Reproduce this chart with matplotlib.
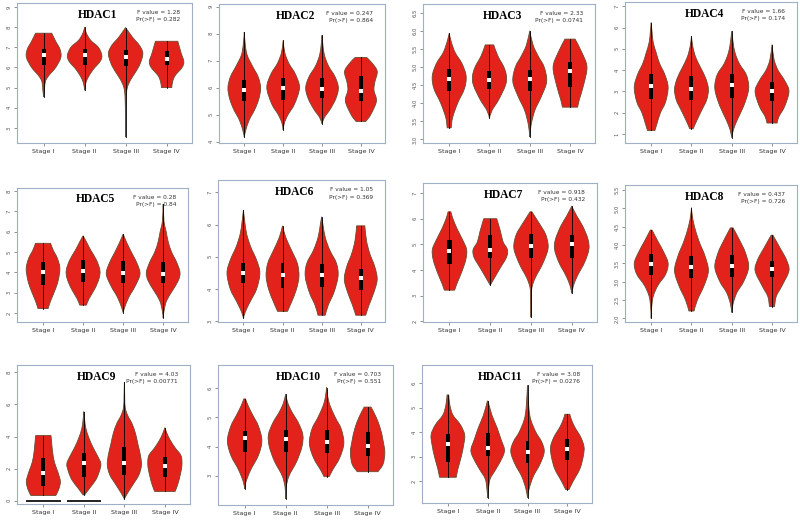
import matplotlib
matplotlib.use("Agg")
import numpy as np
import matplotlib.pyplot as plt
from matplotlib.path import Path
from matplotlib.patches import PathPatch

# ---------------------------
# Data
# ---------------------------
stages = ["Stage I", "Stage II", "Stage III", "Stage IV"]
genes = ["HDAC1", "HDAC2", "HDAC3", "HDAC4", "HDAC5", "HDAC6",
         "HDAC7", "HDAC8", "HDAC9", "HDAC10", "HDAC11"]
f_values = ["1.28", "0.247", "2.33", "1.66", "0.28", "1.05",
            "0.918", "0.437", "4.03", "0.703", "3.08"]
p_values = ["0.282", "0.864", "0.0741", "0.174", "0.84", "0.369",
            "0.432", "0.726", "0.00771", "0.551", "0.0276"]

# violin outlines: (expression, relative half-width) from bottom to top
hdac1_shape = [
    [(4.55, 0), (4.9, 0.05), (5.3, 0.1), (5.6, 0.3), (6.0, 0.7), (6.5, 1.0), (6.9, 0.95), (7.3, 0.7), (7.7, 0.47)],
    [(4.87, 0), (5.2, 0.06), (5.5, 0.2), (5.9, 0.5), (6.3, 0.9), (6.6, 1.0), (7.0, 0.8), (7.35, 0.35), (7.7, 0.1), (8.0, 0)],
    [(2.54, 0), (3.5, 0.01), (4.5, 0.03), (5.0, 0.1), (5.4, 0.3), (5.8, 0.6), (6.2, 0.85), (6.7, 1.0), (7.1, 0.8), (7.5, 0.4), (7.98, 0)],
    [(5.0, 0.3), (5.3, 0.35), (5.6, 0.5), (6.0, 0.9), (6.3, 1.0), (6.7, 0.85), (7.3, 0.65)],
]
hdac1_box = [(6.1, 6.6, 6.92), (6.13, 6.6, 6.92), (6.07, 6.5, 6.87), (6.1, 6.43, 6.8)]

hdac2_shape = [
    [(4.17, 0), (4.4, 0.08), (4.8, 0.3), (5.2, 0.65), (5.6, 0.9), (6.0, 1.0), (6.4, 0.85), (6.8, 0.5), (7.2, 0.18), (7.6, 0.06), (8.06, 0)],
    [(4.44, 0), (4.7, 0.08), (5.0, 0.3), (5.4, 0.7), (6.0, 1.0), (6.5, 0.75), (6.9, 0.35), (7.3, 0.1), (7.75, 0)],
    [(4.66, 0), (4.9, 0.15), (5.2, 0.5), (5.6, 0.85), (6.0, 1.0), (6.4, 0.8), (6.8, 0.4), (7.2, 0.15), (7.6, 0.05), (7.94, 0)],
    [(4.75, 0.3), (5.0, 0.6), (5.5, 0.95), (5.9, 0.8), (6.2, 0.85), (6.6, 1.0), (6.9, 0.7), (7.12, 0.35)],
]
hdac2_box = [(5.49, 5.91, 6.3), (5.55, 5.98, 6.34), (5.63, 5.94, 6.34), (5.49, 5.89, 6.45)]

hdac3_shape = [
    [(3.32, 0.12), (3.6, 0.2), (4.0, 0.5), (4.4, 0.9), (4.75, 1.0), (5.1, 0.75), (5.4, 0.35), (5.7, 0.12), (5.93, 0)],
    [(3.59, 0), (3.8, 0.15), (4.1, 0.55), (4.5, 0.95), (4.75, 1.0), (5.0, 0.85), (5.3, 0.5), (5.61, 0.25)],
    [(3.07, 0), (3.4, 0.08), (3.8, 0.3), (4.2, 0.7), (4.6, 1.0), (5.0, 0.85), (5.3, 0.5), (5.6, 0.2), (6.0, 0)],
    [(3.89, 0.45), (4.1, 0.55), (4.5, 0.8), (5.0, 1.0), (5.4, 0.7), (5.77, 0.3)],
]
hdac3_box = [(4.35, 4.67, 4.94), (4.39, 4.65, 4.9), (4.35, 4.67, 4.92), (4.44, 4.88, 5.15)]

hdac4_shape = [
    [(1.16, 0.22), (1.5, 0.35), (2.0, 0.55), (2.5, 0.85), (3.2, 1.0), (3.8, 0.8), (4.3, 0.5), (4.8, 0.3), (5.3, 0.12), (5.8, 0.05), (6.23, 0)],
    [(1.24, 0.1), (1.6, 0.3), (2.1, 0.6), (2.6, 0.9), (3.1, 1.0), (3.6, 0.85), (4.1, 0.55), (4.6, 0.25), (5.1, 0.08), (5.59, 0)],
    [(0.82, 0), (1.2, 0.1), (1.7, 0.35), (2.3, 0.7), (2.9, 0.95), (3.3, 1.0), (3.8, 0.85), (4.3, 0.45), (4.8, 0.2), (5.3, 0.08), (5.84, 0)],
    [(1.51, 0.3), (1.8, 0.4), (2.3, 0.75), (3.0, 1.0), (3.5, 0.75), (4.0, 0.35), (4.5, 0.12), (5.2, 0)],
]
hdac4_box = [(2.65, 3.24, 3.8), (2.61, 3.13, 3.71), (2.7, 3.28, 3.8), (2.54, 3.02, 3.44)]

hdac5_shape = [
    [(2.22, 0.3), (2.6, 0.45), (3.1, 0.7), (3.6, 0.9), (4.2, 1.0), (4.7, 0.85), (5.1, 0.6), (5.43, 0.45)],
    [(2.39, 0.2), (2.7, 0.35), (3.2, 0.7), (3.7, 0.95), (4.1, 1.0), (4.6, 0.8), (5.1, 0.45), (5.5, 0.2), (5.8, 0)],
    [(2.02, 0), (2.3, 0.1), (2.8, 0.35), (3.3, 0.7), (3.9, 1.0), (4.4, 0.85), (4.9, 0.55), (5.4, 0.25), (5.88, 0)],
    [(1.76, 0), (2.1, 0.05), (2.6, 0.2), (3.1, 0.55), (3.6, 0.9), (4.0, 1.0), (4.5, 0.8), (5.0, 0.5), (5.5, 0.3), (6.0, 0.18), (6.5, 0.05), (7.36, 0)],
]
hdac5_box = [(3.37, 4.03, 4.5), (3.54, 4.07, 4.61), (3.5, 3.98, 4.56), (3.46, 3.92, 4.5)]

hdac6_shape = [
    [(3.1, 0), (3.3, 0.12), (3.6, 0.4), (4.0, 0.8), (4.5, 1.0), (4.9, 0.8), (5.3, 0.45), (5.7, 0.2), (6.1, 0.08), (6.45, 0)],
    [(3.31, 0.3), (3.6, 0.55), (4.0, 0.85), (4.4, 1.0), (4.8, 0.9), (5.2, 0.55), (5.6, 0.2), (5.96, 0)],
    [(3.19, 0.22), (3.5, 0.4), (3.9, 0.75), (4.4, 1.0), (4.8, 0.9), (5.2, 0.5), (5.6, 0.22), (6.0, 0.08), (6.24, 0)],
    [(3.19, 0.3), (3.5, 0.5), (3.9, 0.8), (4.3, 1.0), (4.7, 0.85), (5.1, 0.55), (5.5, 0.35), (5.96, 0.25)],
]
hdac6_box = [(4.2, 4.51, 4.82), (4.02, 4.43, 4.82), (4.07, 4.43, 4.79), (3.96, 4.35, 4.61)]

hdac7_shape = [
    [(3.22, 0.3), (3.5, 0.45), (3.9, 0.7), (4.4, 0.95), (4.8, 1.0), (5.2, 0.75), (5.6, 0.45), (6.0, 0.2), (6.27, 0.08)],
    [(3.41, 0), (3.7, 0.25), (4.1, 0.6), (4.5, 0.95), (4.8, 1.0), (5.1, 0.75), (5.5, 0.6), (6.0, 0.38)],
    [(2.16, 0), (2.8, 0.02), (3.3, 0.05), (3.7, 0.25), (4.2, 0.65), (4.7, 0.95), (5.0, 1.0), (5.4, 0.85), (5.8, 0.5), (6.27, 0.05)],
    [(3.09, 0), (3.4, 0.1), (3.8, 0.35), (4.3, 0.75), (4.8, 1.0), (5.2, 0.95), (5.7, 0.65), (6.1, 0.3), (6.49, 0)],
]
hdac7_box = [(4.25, 4.74, 5.16), (4.48, 4.8, 5.35), (4.48, 4.94, 5.39), (4.46, 5.0, 5.36)]

hdac8_shape = [
    [(2.0, 0), (2.3, 0.03), (2.6, 0.12), (2.9, 0.4), (3.2, 0.85), (3.5, 1.0), (3.8, 0.75), (4.1, 0.4), (4.41, 0.05)],
    [(2.2, 0.15), (2.5, 0.35), (2.9, 0.75), (3.3, 1.0), (3.7, 0.8), (4.1, 0.45), (4.5, 0.18), (4.8, 0.05), (5.02, 0)],
    [(2.16, 0), (2.4, 0.08), (2.7, 0.3), (3.0, 0.7), (3.4, 1.0), (3.8, 0.8), (4.1, 0.5), (4.47, 0.08)],
    [(2.32, 0.15), (2.6, 0.25), (2.9, 0.6), (3.3, 1.0), (3.6, 0.85), (3.9, 0.5), (4.27, 0.05)],
]
hdac8_box = [(3.18, 3.47, 3.75), (3.09, 3.41, 3.7), (3.14, 3.44, 3.73), (3.14, 3.35, 3.56)]

hdac9_shape = [
    [(0.33, 0.73), (0.7, 0.9), (1.2, 1.0), (1.8, 0.85), (2.4, 0.65), (3.0, 0.55), (3.5, 0.5), (4.06, 0.45)],
    [(0.37, 0.05), (0.8, 0.35), (1.3, 0.7), (1.8, 0.9), (2.3, 1.0), (2.8, 0.8), (3.3, 0.55), (3.9, 0.3), (4.5, 0.12), (5.0, 0.05), (5.55, 0)],
    [(0.12, 0), (0.5, 0.2), (1.0, 0.5), (1.6, 0.85), (2.2, 1.0), (2.8, 0.95), (3.5, 0.8), (4.2, 0.65), (4.8, 0.45), (5.3, 0.2), (5.8, 0.05), (6.5, 0.02), (7.37, 0)],
    [(0.58, 0.6), (1.0, 0.75), (1.6, 0.9), (2.2, 1.0), (2.8, 0.95), (3.3, 0.6), (3.8, 0.3), (4.2, 0.12), (4.55, 0)],
]
hdac9_box = [(0.89, 1.72, 2.69), (1.51, 2.34, 2.96), (1.61, 2.34, 3.37), (1.45, 2.19, 2.75)]
hdac9_zeros = [True, True, False, False]   # samples piled up at 0

hdac10_shape = [
    [(2.55, 0), (2.8, 0.08), (3.2, 0.35), (3.7, 0.8), (4.2, 1.0), (4.7, 0.8), (5.1, 0.45), (5.4, 0.2), (5.63, 0.05)],
    [(2.21, 0), (2.6, 0.03), (3.0, 0.2), (3.5, 0.65), (4.0, 0.95), (4.4, 1.0), (4.8, 0.75), (5.2, 0.35), (5.5, 0.12), (5.79, 0)],
    [(2.97, 0.15), (3.2, 0.35), (3.6, 0.75), (4.1, 1.0), (4.6, 0.85), (5.0, 0.5), (5.4, 0.2), (5.7, 0.07), (6.02, 0)],
    [(3.14, 0.6), (3.4, 0.9), (3.8, 1.0), (4.2, 0.9), (4.6, 0.75), (5.0, 0.5), (5.35, 0.2)],
]
hdac10_box = [(3.81, 4.29, 4.54), (3.83, 4.25, 4.57), (3.77, 4.14, 4.57), (3.66, 4.02, 4.51)]

hdac11_shape = [
    [(2.16, 0.5), (2.5, 0.6), (3.0, 0.8), (3.5, 0.95), (3.9, 1.0), (4.3, 0.75), (4.7, 0.3), (5.1, 0.12), (5.52, 0.05)],
    [(1.32, 0), (1.7, 0.05), (2.1, 0.15), (2.5, 0.5), (3.0, 0.9), (3.3, 1.0), (3.7, 0.8), (4.2, 0.55), (4.7, 0.25), (5.27, 0.02)],
    [(1.32, 0), (1.7, 0.1), (2.2, 0.35), (2.7, 0.75), (3.2, 1.0), (3.6, 0.85), (4.0, 0.5), (4.5, 0.2), (5.0, 0.08), (5.92, 0)],
    [(1.66, 0.1), (2.0, 0.35), (2.5, 0.75), (3.0, 0.95), (3.4, 1.0), (3.8, 0.8), (4.2, 0.45), (4.5, 0.25), (4.73, 0.15)],
]
hdac11_box = [(2.78, 3.53, 3.92), (3.01, 3.35, 3.96), (2.74, 3.21, 3.62), (2.88, 3.32, 3.72)]

shapes = [hdac1_shape, hdac2_shape, hdac3_shape, hdac4_shape, hdac5_shape, hdac6_shape,
          hdac7_shape, hdac8_shape, hdac9_shape, hdac10_shape, hdac11_shape]
boxes = [hdac1_box, hdac2_box, hdac3_box, hdac4_box, hdac5_box, hdac6_box,
         hdac7_box, hdac8_box, hdac9_box, hdac10_box, hdac11_box]

y_ticks = [
    [3, 4, 5, 6, 7, 8, 9],
    [4, 5, 6, 7, 8, 9],
    [3.0, 3.5, 4.0, 4.5, 5.0, 5.5, 6.0, 6.5],
    [1, 2, 3, 4, 5, 6, 7],
    [2, 3, 4, 5, 6, 7, 8],
    [3, 4, 5, 6, 7],
    [2, 3, 4, 5, 6, 7],
    [2.0, 2.5, 3.0, 3.5, 4.0, 4.5, 5.0, 5.5],
    [0, 2, 4, 6, 8],
    [3, 4, 5, 6],
    [2, 3, 4, 5, 6],
]
y_limits = [(2.25, 9.2), (3.95, 9.1), (2.9, 6.74), (0.57, 7.2), (1.56, 8.15), (2.98, 7.38),
            (1.98, 7.39), (1.9, 5.64), (-0.2, 8.45), (2.0, 6.79), (1.11, 6.74)]

# panel boxes in pixels: left, top, right, bottom
panels = [
    (17, 3, 192, 143), (219, 4, 385, 143), (423, 4, 595, 143), (625, 2, 797, 143),
    (17, 188, 188, 322), (218, 180, 385, 322), (423, 183, 597, 322), (625, 185, 797, 322),
    (17, 365, 190, 504), (218, 365, 393, 505), (422, 365, 592, 503),
]

W, H = 800, 520
VIOLIN_RED = "#e3231b"
EDGE = "#6a4a30"
FRAME = "#9fb0c4"
HALF_WIDTH = 0.42


def smooth_side(pts):
    """Catmull-Rom through pts, returned as cubic bezier vertices (no start point)."""
    pts = np.asarray(pts, dtype=float)
    ext = np.vstack([pts[0], pts, pts[-1]])
    verts = []
    for i in range(1, len(ext) - 2):
        p0, p1, p2, p3 = ext[i - 1], ext[i], ext[i + 1], ext[i + 2]
        verts += [p1 + (p2 - p0) / 6.0, p2 - (p3 - p1) / 6.0, p2]
    return verts


def violin_path(x0, prof):
    ys = np.array([p[0] for p in prof])
    ws = np.array([p[1] for p in prof]) * HALF_WIDTH
    right = np.column_stack([x0 + ws, ys])
    left = np.column_stack([x0 - ws, ys])[::-1]
    verts = [tuple(right[0])]
    codes = [Path.MOVETO]
    rv = smooth_side(right)
    verts += rv
    codes += [Path.CURVE4] * len(rv)
    verts.append(tuple(left[0]))
    codes.append(Path.LINETO)
    lv = smooth_side(left)
    verts += lv
    codes += [Path.CURVE4] * len(lv)
    verts.append(tuple(right[0]))
    codes.append(Path.CLOSEPOLY)
    return Path(verts, codes)


def draw_panel(ax, shape, box, gene, fval, pval, ticks, ylim, zeros=None):
    for i, prof in enumerate(shape):
        x0 = i + 1
        ax.add_patch(PathPatch(violin_path(x0, prof), facecolor=VIOLIN_RED,
                               edgecolor=EDGE, linewidth=0.6, zorder=2))
        ax.plot([x0, x0], [prof[0][0], prof[-1][0]], color="black", linewidth=0.6, zorder=3)
        q1, med, q3 = box[i]
        ax.add_patch(plt.Rectangle((x0 - 0.05, q1), 0.1, q3 - q1,
                                   facecolor="black", edgecolor="none", zorder=4))
        ax.plot([x0], [med], marker="s", markersize=2.6, color="white",
                markeredgewidth=0, zorder=5)
        if zeros is not None and zeros[i]:
            ax.plot([x0 - 0.4, x0 + 0.4], [0, 0], color="#222222", linewidth=1.4, zorder=3)

    ax.set_xlim(0.35, 4.62)
    ax.set_ylim(*ylim)
    ax.set_xticks([1, 2, 3, 4])
    ax.set_xticklabels(stages, fontsize=4.6, color="#333333")
    ax.set_yticks(ticks)
    ax.set_yticklabels([str(t) for t in ticks], fontsize=3.8, color="#555555",
                       rotation=90, va="center")
    ax.tick_params(axis="both", length=2, width=0.5, color="#666666", pad=2)
    for sp in ax.spines.values():
        sp.set_color(FRAME)
        sp.set_linewidth(0.8)

    ax.text(0.46, 0.915, gene, transform=ax.transAxes, ha="center", va="center",
            fontsize=8.3, fontweight="bold", family="Liberation Serif")
    ax.text(0.93, 0.93, "F value = " + fval, transform=ax.transAxes,
            ha="right", va="center", fontsize=4.2, color="#333333")
    ax.text(0.93, 0.88, "Pr(>F) = " + pval, transform=ax.transAxes,
            ha="right", va="center", fontsize=4.2, color="#333333")


def main():
    fig = plt.figure(figsize=(W / 100, H / 100), dpi=100)
    for k, gene in enumerate(genes):
        l, t, r, b = panels[k]
        ax = fig.add_axes([l / W, 1 - b / H, (r - l) / W, (b - t) / H])
        zeros = hdac9_zeros if gene == "HDAC9" else None
        draw_panel(ax, shapes[k], boxes[k], gene, f_values[k], p_values[k],
                   y_ticks[k], y_limits[k], zeros)
    fig.savefig("out.png", dpi=100)


if __name__ == "__main__":
    main()
